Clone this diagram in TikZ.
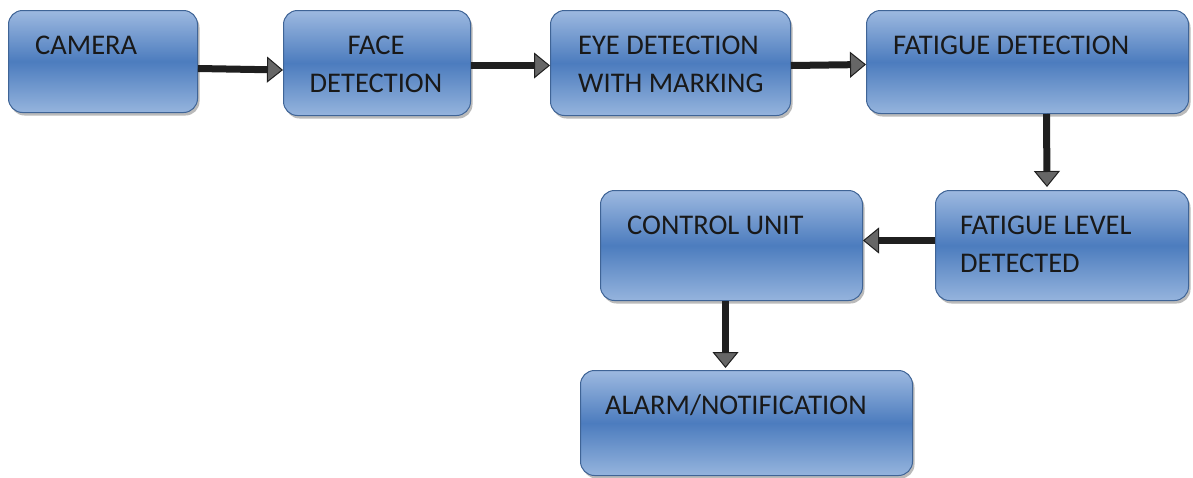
\documentclass[tikz,border=0pt]{standalone}
\usepackage{fontspec}
\setmainfont{Carlito}
\usetikzlibrary{arrows.meta,shadows,calc}
\definecolor{boxtop}{HTML}{9DB9E0}
\definecolor{boxmid}{HTML}{4C7CBE}
\definecolor{boxbot}{HTML}{95B4DD}
\definecolor{boxline}{HTML}{3F6496}
\begin{document}
\begin{tikzpicture}[x=1pt,y=1pt,
  box/.style={draw=boxline, line width=1pt, rounded corners=14pt, anchor=north west,
    top color=boxtop, bottom color=boxbot, middle color=boxmid, inner sep=0pt,
    drop shadow={shadow xshift=2pt, shadow yshift=-3pt, fill=black!45, opacity=0.6}},
  lbl/.style={font=\fontsize{28.5}{38}\selectfont, text=black!90, inner sep=0pt, align=left},
  arr/.style={line width=7pt, draw=black!88, -{Triangle[width=26pt,length=16pt,fill=black!60,line width=1pt]}}]
\useasboundingbox (0,0) rectangle (1193,-477);
% boxes
\node[box, minimum width=189pt, minimum height=102pt] (cam) at (8,-10) {};
\node[box, minimum width=187pt, minimum height=105pt] (face) at (283,-10) {};
\node[box, minimum width=240pt, minimum height=105pt] (eye) at (550,-10) {};
\node[box, minimum width=322pt, minimum height=103pt] (fat) at (866,-10) {};
\node[box, minimum width=253pt, minimum height=110pt] (lvl) at (935,-190) {};
\node[box, minimum width=262pt, minimum height=110pt] (ctrl) at (600,-190) {};
\node[box, minimum width=332pt, minimum height=105pt] (alarm) at (580,-370) {};
% labels
\node[lbl, anchor=west] (camt) at (35,-45) {CAMERA};
\node[lbl, align=center, anchor=north] (facet) at (376,-36) {FACE\\DETECTION};
\node[lbl, anchor=north west] (eyet) at (578,-36) {EYE DETECTION\\WITH MARKING};
\node[lbl, anchor=west] (fatt) at (893,-45) {FATIGUE DETECTION};
\node[lbl, anchor=north west] (lvlt) at (960,-216) {FATIGUE LEVEL\\DETECTED};
\node[lbl, anchor=west] (ctrlt) at (627,-225) {CONTROL UNIT};
\node[lbl, anchor=west] (alarmt) at (605,-405) {ALARM/NOTIFICATION};
% arrows
\draw[arr] ([yshift=-7pt]cam.east) -- ([yshift=-7pt]face.west);
\draw[arr] ([yshift=-2.5pt]face.east) -- ([yshift=-2.5pt]eye.west);
\draw[arr] ([yshift=-2.5pt]eye.east) -- ([yshift=-2.5pt]fat.west);
\draw[arr] ([xshift=19pt]fat.south) -- ([xshift=-15pt,yshift=3pt]lvl.north);
\draw[arr] ([yshift=5pt]lvl.west) -- ([yshift=5pt]ctrl.east);
\draw[arr] ([xshift=-6pt]ctrl.south) -- ([xshift=-21pt,yshift=2pt]alarm.north);
\end{tikzpicture}
\end{document}
